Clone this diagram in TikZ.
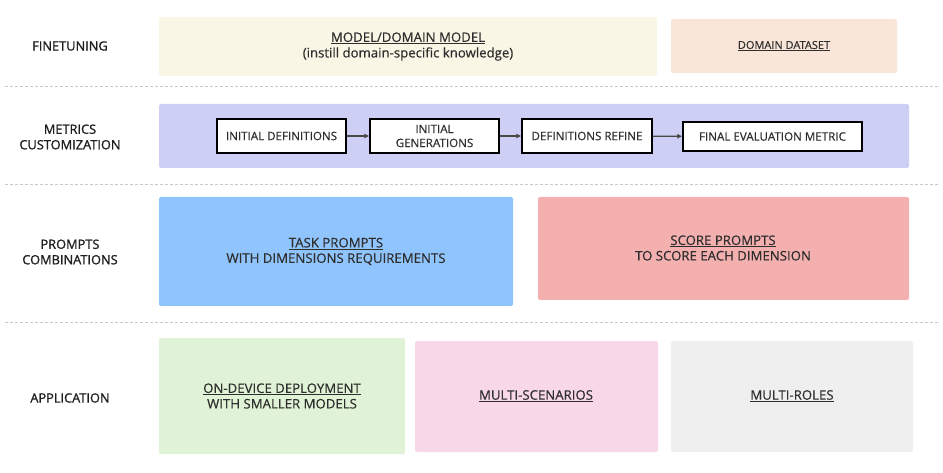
\documentclass[tikz,border=0pt]{standalone}
\usepackage{fontspec}
\setmainfont{Open Sans}
\newfontfamily\lblfont{Open Sans}[FakeBold=1.2]
\newfontfamily\bodyfont{Open Sans}[FakeBold=0.4]
\usetikzlibrary{arrows.meta}
\definecolor{txt}{HTML}{2E2E2E}
\definecolor{dashc}{HTML}{C8C8C8}
\definecolor{cream}{HTML}{FAF6E6}
\definecolor{peach}{HTML}{FAE6D8}
\definecolor{lav}{HTML}{CDCFF5}
\definecolor{blueb}{HTML}{90C4FC}
\definecolor{redb}{HTML}{F4AFAF}
\definecolor{greenb}{HTML}{E0F3D6}
\definecolor{pinkb}{HTML}{F8D7E8}
\definecolor{grayb}{HTML}{EFEFEF}
\newcommand{\ul}[1]{\underline{#1}}
\tikzset{
  lane/.style={draw=dashc, line width=0.8pt, dash pattern=on 3pt off 2pt},
  rowlabel/.style={font=\lblfont\fontsize{12.8}{15.5}\selectfont, text=black!88, align=center},
  panel/.style={rounded corners=2pt, draw=none},
  ptext/.style={font=\bodyfont\fontsize{13.2}{15.5}\selectfont, text=txt, align=center},
  stepbox/.style={draw=black, line width=1.1pt, fill=white, font=\bodyfont\fontsize{11.6}{14}\selectfont, text=txt, align=center},
  flow/.style={draw=black!72, line width=1.3pt, -{Latex[length=5pt,width=5pt]}},
}
\begin{document}
\begin{tikzpicture}[x=1pt,y=-1pt]
\useasboundingbox (0,0) rectangle (943,473);
% lane separators
\coordinate (l1a) at (5,86); \coordinate (l1b) at (940,86);
\coordinate (l2a) at (5,184); \coordinate (l2b) at (940,184);
\coordinate (l3a) at (5,322); \coordinate (l3b) at (940,322);
\draw[lane] (l1a) -- (l1b);
\draw[lane] (l2a) -- (l2b);
\draw[lane] (l3a) -- (l3b);
% row labels
\node[rowlabel] (lbl1) at (70,46) {FINETUNING};
\node[rowlabel] (lbl2) at (70,137) {METRICS\\CUSTOMIZATION};
\node[rowlabel] (lbl3) at (70,252) {PROMPTS\\COMBINATIONS};
\node[rowlabel] (lbl4) at (70,398) {APPLICATION};
% finetuning
\fill[panel, cream] (159,17) rectangle (657,76);
\node[ptext] (model) at (408,46.5) {\ul{MODEL/DOMAIN MODEL}\\(instill domain-specific knowledge)};
\fill[panel, peach] (671,19) rectangle (897,73);
\node[ptext, font=\bodyfont\fontsize{11}{13}\selectfont] (dataset) at (784,46) {\ul{DOMAIN DATASET}};
% metrics
\fill[panel, lav] (159,104) rectangle (909,168);
\node[stepbox, minimum width=129pt, minimum height=34pt] (s1) at (281.5,136) {INITIAL DEFINITIONS};
\node[stepbox, minimum width=129pt, minimum height=34pt] (s2) at (434.5,136) {INITIAL\\GENERATIONS};
\node[stepbox, minimum width=130pt, minimum height=34pt] (s3) at (587,136) {DEFINITIONS REFINE};
\node[stepbox, minimum width=179pt, minimum height=29pt] (s4) at (772.5,136.5) {FINAL EVALUATION METRIC};
\draw[flow] (s1) -- (s2);
\draw[flow] (s2) -- (s3);
\draw[flow] (s3) -- (s4);
% prompts
\fill[panel, blueb] (159,197) rectangle (513,306);
\node[ptext] (task) at (336,251.5) {\ul{TASK PROMPTS}\\WITH DIMENSIONS REQUIREMENTS};
\fill[panel, redb] (538,197) rectangle (909,300);
\node[ptext] (score) at (723,248) {\ul{SCORE PROMPTS}\\TO SCORE EACH DIMENSION};
% application
\fill[panel, greenb] (159,338) rectangle (405,454);
\node[ptext] (ondev) at (282,396) {\ul{ON-DEVICE DEPLOYMENT}\\WITH SMALLER MODELS};
\fill[panel, pinkb] (415,341) rectangle (658,452);
\node[ptext] (multis) at (536,396) {\ul{MULTI-SCENARIOS}};
\fill[panel, grayb] (671,341) rectangle (913,452);
\node[ptext] (multir) at (792,396) {\ul{MULTI-ROLES}};
\end{tikzpicture}
\end{document}
